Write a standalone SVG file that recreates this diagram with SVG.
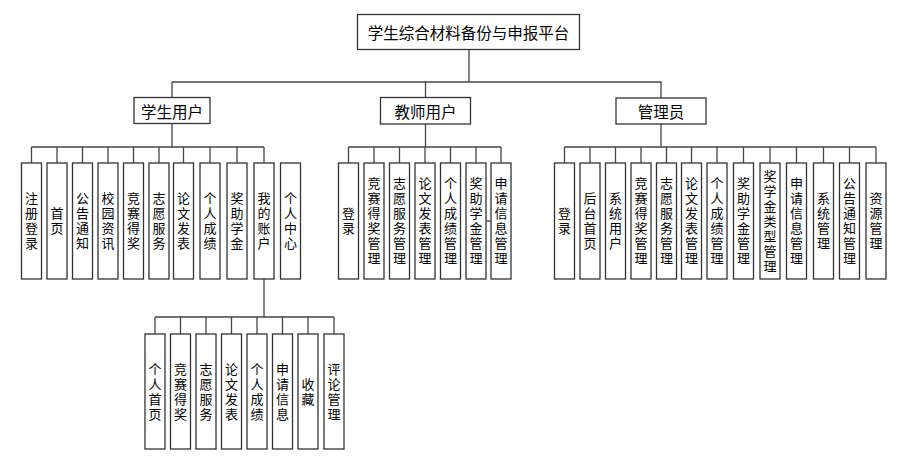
<svg xmlns="http://www.w3.org/2000/svg" width="911" height="463" viewBox="0 0 911 463">
<style>
rect{fill:#fff;stroke:#333;stroke-width:1.3}
.c line{stroke:#444;stroke-width:1.3}
text{font-family:"Noto Sans CJK SC","Noto Sans",sans-serif;fill:#000;text-anchor:middle}
.t{font-size:15.5px;dominant-baseline:central}
.s{font-size:13px;writing-mode:vertical-rl;letter-spacing:2px}
</style>
<rect width="911" height="463" style="fill:#fff;stroke:none"/>
<g class="c" id="connectors">
<line x1="469" y1="49" x2="469" y2="82"/>
<line x1="172" y1="82" x2="661.5" y2="82"/>
<line x1="172" y1="82" x2="172" y2="97.5"/>
<line x1="425.5" y1="82" x2="425.5" y2="97.5"/>
<line x1="661" y1="82" x2="661" y2="98"/>
<line x1="172" y1="123.5" x2="172" y2="147"/>
<line x1="31.5" y1="147" x2="264" y2="147"/>
<line x1="31.5" y1="147" x2="31.5" y2="163"/>
<line x1="57" y1="147" x2="57" y2="163"/>
<line x1="82.5" y1="147" x2="82.5" y2="163"/>
<line x1="108" y1="147" x2="108" y2="163"/>
<line x1="133.5" y1="147" x2="133.5" y2="163"/>
<line x1="159" y1="147" x2="159" y2="163"/>
<line x1="183.5" y1="147" x2="183.5" y2="163"/>
<line x1="210" y1="147" x2="210" y2="163"/>
<line x1="237" y1="147" x2="237" y2="163"/>
<line x1="264" y1="147" x2="264" y2="163"/>
<line x1="425.5" y1="124" x2="425.5" y2="147"/>
<line x1="348.5" y1="147" x2="501" y2="147"/>
<line x1="348.5" y1="147" x2="348.5" y2="163"/>
<line x1="374" y1="147" x2="374" y2="163"/>
<line x1="399.5" y1="147" x2="399.5" y2="163"/>
<line x1="425" y1="147" x2="425" y2="163"/>
<line x1="450.5" y1="147" x2="450.5" y2="163"/>
<line x1="476" y1="147" x2="476" y2="163"/>
<line x1="501" y1="147" x2="501" y2="163"/>
<line x1="485.5" y1="221" x2="491" y2="221"/>
<line x1="661" y1="124" x2="661" y2="147"/>
<line x1="564.5" y1="147" x2="876" y2="147"/>
<line x1="564.5" y1="147" x2="564.5" y2="163"/>
<line x1="590" y1="147" x2="590" y2="163"/>
<line x1="615.5" y1="147" x2="615.5" y2="163"/>
<line x1="641" y1="147" x2="641" y2="163"/>
<line x1="666.5" y1="147" x2="666.5" y2="163"/>
<line x1="691.5" y1="147" x2="691.5" y2="163"/>
<line x1="717" y1="147" x2="717" y2="163"/>
<line x1="743.5" y1="147" x2="743.5" y2="163"/>
<line x1="770" y1="147" x2="770" y2="163"/>
<line x1="796.5" y1="147" x2="796.5" y2="163"/>
<line x1="823.5" y1="147" x2="823.5" y2="163"/>
<line x1="849.5" y1="147" x2="849.5" y2="163"/>
<line x1="876" y1="147" x2="876" y2="163"/>
<line x1="264" y1="279" x2="264" y2="317"/>
<line x1="155" y1="317" x2="334" y2="317"/>
<line x1="155" y1="317" x2="155" y2="334"/>
<line x1="180.5" y1="317" x2="180.5" y2="334"/>
<line x1="206" y1="317" x2="206" y2="334"/>
<line x1="231.5" y1="317" x2="231.5" y2="334"/>
<line x1="257" y1="317" x2="257" y2="334"/>
<line x1="282.5" y1="317" x2="282.5" y2="334"/>
<line x1="308" y1="317" x2="308" y2="334"/>
<line x1="334" y1="317" x2="334" y2="334"/>
</g>
<g id="root"><rect x="357.5" y="14.5" width="222" height="35"/><text class="t" x="468.5" y="32">学生综合材料备份与申报平台</text></g>
<g id="student"><rect x="134" y="97.5" width="76" height="26"/><text class="t" x="172" y="110.5">学生用户</text></g>
<g id="teacher"><rect x="380.5" y="97.5" width="90" height="26.5"/><text class="t" x="425.5" y="110.8">教师用户</text></g>
<g id="admin"><rect x="616" y="98" width="90" height="26"/><text class="t" x="661" y="111">管理员</text></g>

<g id="s1"><rect x="21.5" y="163" width="20" height="116"/><text class="s" x="31.5" y="222">注册登录</text></g>
<g id="s2"><rect x="47" y="163" width="20" height="116"/><text class="s" x="57" y="222">首页</text></g>
<g id="s3"><rect x="72.5" y="163" width="20" height="116"/><text class="s" x="82.5" y="222">公告通知</text></g>
<g id="s4"><rect x="98" y="163" width="20" height="116"/><text class="s" x="108" y="222">校园资讯</text></g>
<g id="s5"><rect x="123.5" y="163" width="20" height="116"/><text class="s" x="133.5" y="222">竞赛得奖</text></g>
<g id="s6"><rect x="149" y="163" width="20" height="116"/><text class="s" x="159" y="222">志愿服务</text></g>
<g id="s7"><rect x="173.5" y="163" width="20" height="116"/><text class="s" x="183.5" y="222">论文发表</text></g>
<g id="s8"><rect x="200" y="163" width="20" height="116"/><text class="s" x="210" y="222">个人成绩</text></g>
<g id="s9"><rect x="227" y="163" width="20" height="116"/><text class="s" x="237" y="222">奖助学金</text></g>
<g id="s10"><rect x="254" y="163" width="20" height="116"/><text class="s" x="264" y="222">我的账户</text></g>
<g id="s11"><rect x="280.5" y="163" width="20" height="116"/><text class="s" x="290.5" y="222">个人中心</text></g>

<g id="t1"><rect x="338.5" y="163" width="20" height="116"/><text class="s" x="348.5" y="222">登录</text></g>
<g id="t2"><rect x="364" y="163" width="20" height="116"/><text class="s" x="374" y="222">竞赛得奖管理</text></g>
<g id="t3"><rect x="389.5" y="163" width="20" height="116"/><text class="s" x="399.5" y="222">志愿服务管理</text></g>
<g id="t4"><rect x="415" y="163" width="20" height="116"/><text class="s" x="425" y="222">论文发表管理</text></g>
<g id="t5"><rect x="440.5" y="163" width="20" height="116"/><text class="s" x="450.5" y="222">个人成绩管理</text></g>
<g id="t6"><rect x="466" y="163" width="20" height="116"/><text class="s" x="476" y="222">奖助学金管理</text></g>
<g id="t7"><rect x="491" y="163" width="20" height="116"/><text class="s" x="501" y="222">申请信息管理</text></g>

<g id="a1"><rect x="554.5" y="163" width="20" height="116"/><text class="s" x="564.5" y="222">登录</text></g>
<g id="a2"><rect x="580" y="163" width="20" height="116"/><text class="s" x="590" y="222">后台首页</text></g>
<g id="a3"><rect x="605.5" y="163" width="20" height="116"/><text class="s" x="615.5" y="222">系统用户</text></g>
<g id="a4"><rect x="631" y="163" width="20" height="116"/><text class="s" x="641" y="222">竞赛得奖管理</text></g>
<g id="a5"><rect x="656.5" y="163" width="20" height="116"/><text class="s" x="666.5" y="222">志愿服务管理</text></g>
<g id="a6"><rect x="681.5" y="163" width="20" height="116"/><text class="s" x="691.5" y="222">论文发表管理</text></g>
<g id="a7"><rect x="707" y="163" width="20" height="116"/><text class="s" x="717" y="222">个人成绩管理</text></g>
<g id="a8"><rect x="733.5" y="163" width="20" height="116"/><text class="s" x="743.5" y="222">奖助学金管理</text></g>
<g id="a9"><rect x="760" y="163" width="20" height="116"/><text class="s" x="770" y="222">奖学金类型管理</text></g>
<g id="a10"><rect x="786.5" y="163" width="20" height="116"/><text class="s" x="796.5" y="222">申请信息管理</text></g>
<g id="a11"><rect x="813.5" y="163" width="20" height="116"/><text class="s" x="823.5" y="222">系统管理</text></g>
<g id="a12"><rect x="839.5" y="163" width="20" height="116"/><text class="s" x="849.5" y="222">公告通知管理</text></g>
<g id="a13"><rect x="866" y="163" width="20" height="116"/><text class="s" x="876" y="222">资源管理</text></g>

<g id="m1"><rect x="145" y="334" width="20" height="115"/><text class="s" x="155" y="392.5">个人首页</text></g>
<g id="m2"><rect x="170.5" y="334" width="20" height="115"/><text class="s" x="180.5" y="392.5">竞赛得奖</text></g>
<g id="m3"><rect x="196" y="334" width="20" height="115"/><text class="s" x="206" y="392.5">志愿服务</text></g>
<g id="m4"><rect x="221.5" y="334" width="20" height="115"/><text class="s" x="231.5" y="392.5">论文发表</text></g>
<g id="m5"><rect x="247" y="334" width="20" height="115"/><text class="s" x="257" y="392.5">个人成绩</text></g>
<g id="m6"><rect x="272.5" y="334" width="20" height="115"/><text class="s" x="282.5" y="392.5">申请信息</text></g>
<g id="m7"><rect x="298" y="334" width="20" height="115"/><text class="s" x="308" y="392.5">收藏</text></g>
<g id="m8"><rect x="324" y="334" width="20" height="115"/><text class="s" x="334" y="392.5">评论管理</text></g>
</svg>
